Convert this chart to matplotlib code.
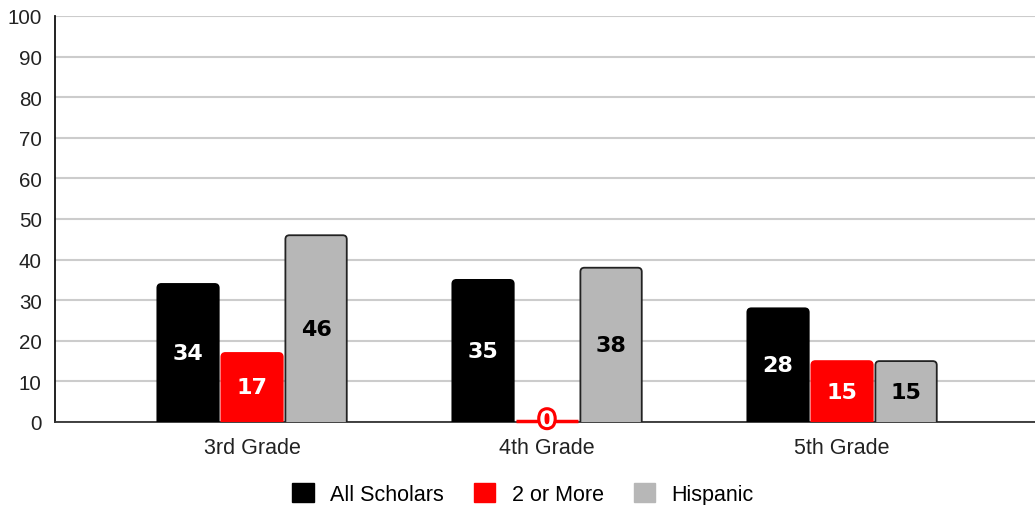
import matplotlib
matplotlib.use("Agg")
import matplotlib.pyplot as plt
from matplotlib.patches import FancyBboxPatch, Patch
import matplotlib.patheffects as pe
import numpy as np

categories = ["3rd Grade", "4th Grade", "5th Grade"]
series_names = ["All Scholars", "2 or More", "Hispanic"]
all_scholars = [34, 35, 28]
two_or_more = [17, 0, 15]
hispanic = [46, 38, 15]
y_ticks = [0, 10, 20, 30, 40, 50, 60, 70, 80, 90, 100]

colors = ["#000000", "#ff0000", "#b7b7b7"]
edges = ["#000000", "#ff0000", "#222222"]
text_colors = ["white", "white", "black"]

plt.rcParams["font.family"] = ["Liberation Sans", "DejaVu Sans"]

W, H = 1035, 506
fig = plt.figure(figsize=(W / 100, H / 100), dpi=100)
ax = fig.add_axes([55 / W, 1 - 423 / H, 1 - 55 / W, (423 - 17) / H])

x = np.arange(len(categories))
pitch = 0.217
width = 0.208
series = [all_scholars, two_or_more, hispanic]

ax.set_xlim(-0.668, 2.654)
ax.set_ylim(0, 100)

# pixel scales for rounded-corner geometry
px_x = (W - 55) / (2.654 + 0.668)
px_y = (423 - 17) / 100
radius_px = 4.0
r_x = radius_px / px_x
aspect = (radius_px / px_y) / r_x

label_font = dict(family="DejaVu Sans", fontsize=16, fontweight="bold")

for i, (vals, c, ec, tc) in enumerate(zip(series, colors, edges, text_colors)):
    pos = x + (i - 1) * pitch
    bars = ax.bar(pos, vals, width=width, color=c, edgecolor=ec, linewidth=1.3,
                  zorder=3)
    for b, v in zip(bars, vals):
        bx, bw, bh = b.get_x(), b.get_width(), b.get_height()
        b.set_visible(False)
        if bh > 0:
            patch = FancyBboxPatch((bx, -3), bw, bh + 3,
                                   boxstyle=f"round,pad=0,rounding_size={r_x}",
                                   mutation_aspect=aspect,
                                   facecolor=c, edgecolor=ec, linewidth=1.3,
                                   zorder=3, clip_on=True)
            ax.add_patch(patch)
            ax.text(bx + bw / 2, bh / 2, f"{v}", ha="center", va="center",
                    color=tc, zorder=5, **label_font)
        else:
            ax.plot([bx, bx + bw], [0.3, 0.3], color=c, lw=2.5, zorder=4,
                    clip_on=False, solid_capstyle="butt")
            ax.text(bx + bw / 2, 0.3, f"{v}", ha="center", va="center",
                    color="white", zorder=5,
                    path_effects=[pe.Stroke(linewidth=4.5, foreground=c), pe.Normal()],
                    **label_font)

ax.set_yticks(y_ticks)
ax.set_xticks(x)
ax.set_xticklabels(categories)
ax.tick_params(axis="both", length=0, labelsize=14.8, colors="#222222")
ax.tick_params(axis="y", pad=9.5)
ax.tick_params(axis="x", pad=11)
ax.set_xticklabels(categories, fontsize=15.5)
ax.yaxis.grid(True, color="#cccccc", linewidth=1.5, zorder=0)
ax.set_axisbelow(True)
for s in ["top", "right"]:
    ax.spines[s].set_visible(False)
ax.spines["left"].set_color("#111111")
ax.spines["left"].set_linewidth(1.3)
ax.spines["bottom"].set_color("#333333")
ax.spines["bottom"].set_linewidth(1.3)

handles = [Patch(facecolor=c, edgecolor=c) for c in colors]
fig.legend(handles, series_names, loc="center", ncol=3, frameon=False,
           bbox_to_anchor=(523 / W, 1 - 495 / H), fontsize=15.5,
           handlelength=1.0, handleheight=1.0, columnspacing=1.4,
           handletextpad=0.75)

fig.savefig("out.png", dpi=100)
